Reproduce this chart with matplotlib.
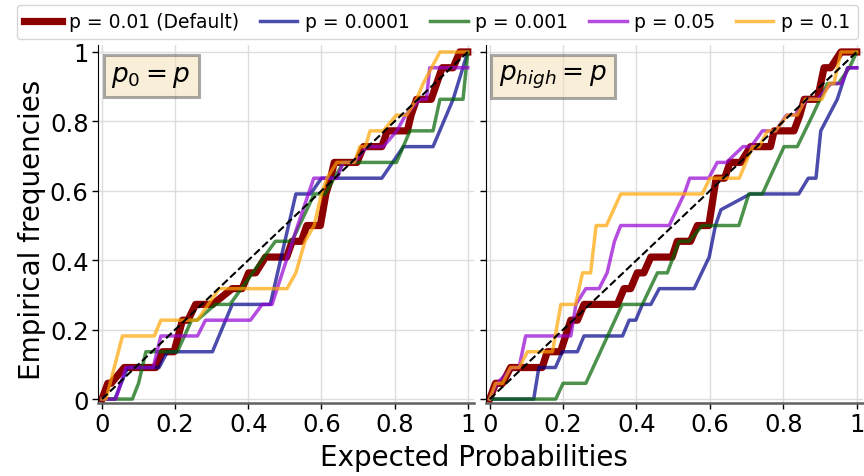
import matplotlib
matplotlib.use("Agg")
import matplotlib.pyplot as plt
import numpy as np

# hits out of N_CASES for each sorted expected probability
N_CASES = 22

labels = ["p = 0.01 (Default)", "p = 0.0001", "p = 0.001", "p = 0.05", "p = 0.1"]
colors = ["darkred", "darkblue", "darkgreen", "darkviolet", "orange"]
panel_titles = ["$p_0 = p$", "$p_{high} = p$"]
tick_vals = [0, 0.2, 0.4, 0.6, 0.8, 1]
tick_labels = ["0", "0.2", "0.4", "0.6", "0.8", "1"]

# left panel: p_0 = p
p0_default_x = [0, 0.016, 0.025, 0.061, 0.147, 0.165, 0.197, 0.22, 0.235, 0.256, 0.302, 0.356, 0.383,
                0.401, 0.42, 0.447, 0.505, 0.52, 0.545, 0.56, 0.597, 0.612, 0.625, 0.635, 0.697, 0.715,
                0.765, 0.78, 0.835, 0.845, 0.86, 0.9, 0.915, 0.93, 0.96, 0.978, 1.0]
p0_default_k = [0, 1, 1, 2, 2, 3, 3, 5, 5, 6, 6, 7, 7, 8, 8, 9, 9, 10, 10, 11, 11, 13, 14, 15, 15, 16,
                16, 17, 17, 18, 19, 19, 20, 21, 21, 22, 22]
p0_1e4_x = [0, 0.035, 0.07, 0.156, 0.179, 0.302, 0.356, 0.46, 0.53, 0.57, 0.6, 0.765, 0.824, 0.905, 0.96, 1.0]
p0_1e4_k = [0, 0, 2, 2, 3, 3, 6, 6, 13, 13, 14, 14, 16, 16, 19, 22]
p0_1e3_x = [0, 0.083, 0.1, 0.12, 0.206, 0.245, 0.26, 0.31, 0.35, 0.474, 0.519, 0.56, 0.58, 0.61, 0.66,
            0.805, 0.842, 0.905, 0.924, 0.987, 1.0]
p0_1e3_k = [0, 0, 1, 3, 3, 5, 5, 6, 6, 10, 10, 12, 13, 13, 15, 15, 17, 17, 19, 19, 22]
p0_005_x = [0, 0.038, 0.065, 0.14, 0.161, 0.261, 0.283, 0.406, 0.438, 0.465, 0.535, 0.579, 0.642, 0.66,
            0.69, 0.724, 0.769, 0.806, 0.83, 0.869, 0.887, 0.896, 1.0]
p0_005_k = [0, 0, 2, 2, 4, 4, 5, 5, 6, 6, 11, 14, 14, 15, 15, 16, 16, 17, 18, 19, 19, 21, 21]
p0_01_x = [0, 0.011, 0.056, 0.143, 0.161, 0.261, 0.32, 0.506, 0.53, 0.555, 0.58, 0.6, 0.615, 0.642, 0.69,
           0.705, 0.72, 0.733, 0.769, 0.805, 0.833, 0.86, 0.878, 0.924, 1.0]
p0_01_k = [0, 0, 4, 4, 5, 5, 7, 7, 8, 10, 11, 13, 14, 15, 15, 16, 16, 17, 17, 18, 18, 19, 20, 22, 22]

# right panel: p_high = p
ph_default_x = [0, 0.016, 0.035, 0.057, 0.143, 0.157, 0.193, 0.221, 0.239, 0.257, 0.348, 0.366, 0.384,
                0.402, 0.42, 0.439, 0.497, 0.511, 0.547, 0.566, 0.597, 0.617, 0.64, 0.655, 0.684, 0.711,
                0.765, 0.775, 0.829, 0.845, 0.857, 0.893, 0.911, 0.929, 0.957, 1.0]
ph_default_k = [0, 1, 1, 2, 2, 3, 3, 5, 5, 6, 6, 7, 7, 8, 8, 9, 9, 10, 10, 11, 11, 14, 14, 15, 15, 16,
                16, 17, 17, 18, 19, 19, 21, 21, 22, 22]
ph_1e4_x = [0, 0.12, 0.134, 0.179, 0.198, 0.239, 0.257, 0.362, 0.38, 0.398, 0.416, 0.439, 0.462, 0.557,
            0.598, 0.615, 0.63, 0.71, 0.842, 0.868, 0.889, 0.902, 0.947, 0.975, 1.0]
ph_1e4_k = [0, 0, 2, 2, 3, 3, 4, 4, 5, 5, 6, 6, 7, 7, 9, 11, 12, 13, 13, 14, 14, 17, 19, 21, 21]
ph_1e3_x = [0, 0.18, 0.2, 0.262, 0.361, 0.416, 0.457, 0.484, 0.516, 0.543, 0.579, 0.679, 0.706, 0.743,
            0.802, 0.838, 0.88, 0.92, 0.95, 0.98, 1.0]
ph_1e3_k = [0, 0, 1, 1, 6, 6, 8, 8, 10, 10, 11, 11, 13, 13, 16, 16, 18, 20, 20, 21, 22]
ph_005_x = [0, 0.02, 0.062, 0.08, 0.098, 0.221, 0.235, 0.262, 0.298, 0.32, 0.34, 0.357, 0.489, 0.53,
            0.545, 0.597, 0.62, 0.645, 0.69, 0.712, 0.743, 0.779, 0.809, 0.832, 0.865, 0.893, 0.93,
            0.958, 0.977, 1.0]
ph_005_k = [0, 1, 2, 2, 4, 4, 6, 7, 7, 8, 10, 11, 11, 13, 14, 14, 15, 15, 16, 16, 17, 17, 18, 18, 19,
            19, 20, 20, 21, 21]
ph_01_x = [0, 0.016, 0.035, 0.057, 0.08, 0.103, 0.171, 0.194, 0.234, 0.253, 0.275, 0.29, 0.318, 0.357,
           0.579, 0.6, 0.68, 0.716, 0.734, 0.757, 0.779, 0.811, 0.838, 0.86, 0.905, 0.925, 0.938,
           0.957, 1.0]
ph_01_k = [0, 1, 1, 2, 2, 3, 3, 6, 6, 8, 8, 11, 11, 13, 13, 14, 14, 16, 16, 17, 17, 18, 18, 19, 19,
           20, 20, 22, 22]

panels = [
    [(p0_default_x, p0_default_k), (p0_1e4_x, p0_1e4_k), (p0_1e3_x, p0_1e3_k),
     (p0_005_x, p0_005_k), (p0_01_x, p0_01_k)],
    [(ph_default_x, ph_default_k), (ph_1e4_x, ph_1e4_k), (ph_1e3_x, ph_1e3_k),
     (ph_005_x, ph_005_k), (ph_01_x, ph_01_k)],
]

fig = plt.figure(figsize=(8.64, 4.77), dpi=100)
ax1 = fig.add_axes([0.1138, 0.154, 0.4348, 0.7495])
ax2 = fig.add_axes([0.5625, 0.154, 0.4363, 0.7495], sharey=ax1)

handles = []
for ax, curves, title in zip([ax1, ax2], panels, panel_titles):
    for i, (xs, ks) in enumerate(curves):
        ys = np.array(ks) / N_CASES
        if i == 0:
            h, = ax.plot(xs, ys, color=colors[i], lw=5.2, label=labels[i])
        else:
            h, = ax.plot(xs, ys, color=colors[i], lw=2.5, alpha=0.7, label=labels[i])
        if ax is ax1:
            handles.append(h)
    ax.plot([0, 1], [0, 1], "k--", lw=1.5)

    ax.set_xlim(-0.01, 1.017)
    ax.set_ylim(-0.01, 1.02)
    ax.set_xticks(tick_vals)
    ax.set_xticklabels(tick_labels)
    ax.set_yticks(tick_vals)
    ax.grid(True, color="#dddddd", lw=1)
    ax.set_axisbelow(True)
    ax.tick_params(labelsize=17.5, length=4, width=1, pad=3)
    ax.spines["top"].set_visible(False)
    ax.spines["right"].set_visible(False)
    ax.spines["bottom"].set_color("#606060")
    ax.spines["bottom"].set_linewidth(1.8)
    ax.text(0.035, 0.95, title, transform=ax.transAxes, fontsize=19, ha="left", va="top",
            bbox=dict(boxstyle="square,pad=0.3", facecolor="wheat", edgecolor="#555555",
                      alpha=0.5, lw=2.2))

ax1.set_yticklabels(tick_labels)
ax2.tick_params(labelleft=False)

fig.text(0.037, 0.518, "Empirical frequencies", rotation=90, fontsize=20, ha="center", va="center")
fig.text(0.549, 0.04, "Expected Probabilities", fontsize=20, ha="center", va="center")

fig.legend(handles=handles, loc="upper center", bbox_to_anchor=(0.506, 0.996), ncol=5, fontsize=13.5,
           handlelength=2.0, handletextpad=0.4, columnspacing=1.1, borderaxespad=0.2)

fig.savefig("out.png", dpi=100)
